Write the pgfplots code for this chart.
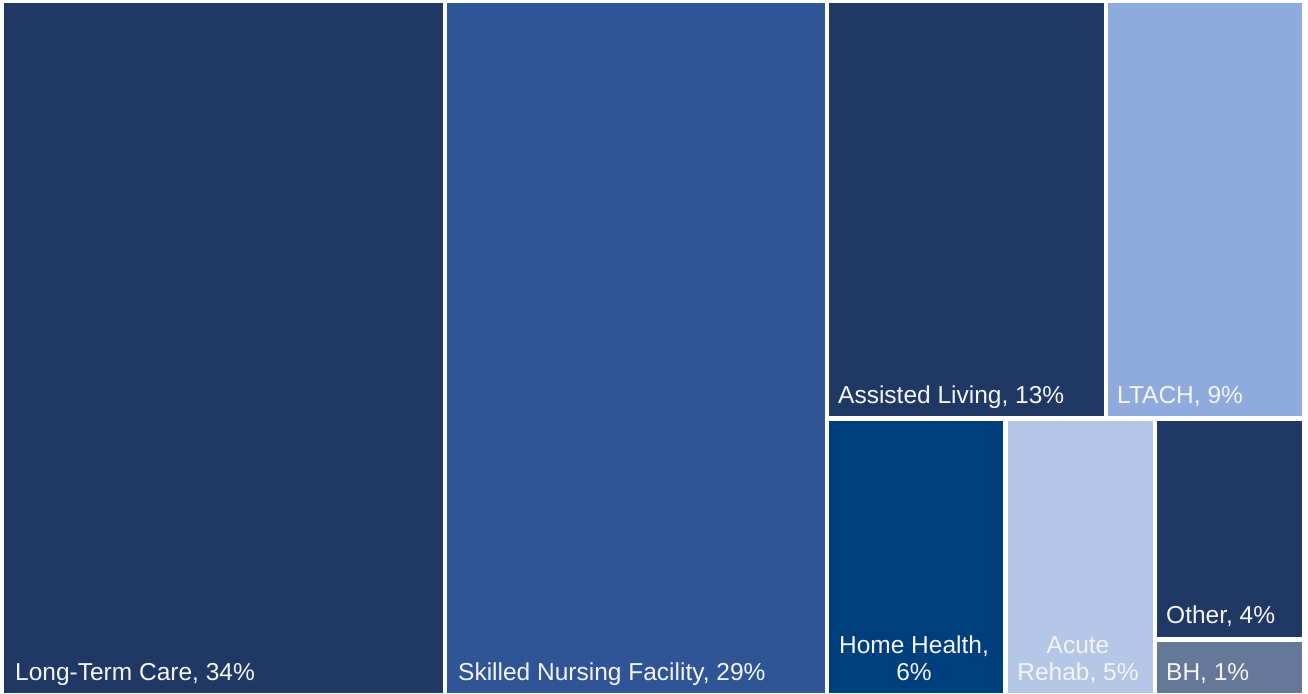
\documentclass[border=0pt]{standalone}
\usepackage{fontspec}
\setmainfont{Liberation Sans}
\usepackage{pgfplots}
\pgfplotsset{compat=1.18}
\definecolor{navy}{HTML}{203864}
\definecolor{snf}{HTML}{2F5597}
\definecolor{ltach}{HTML}{8FAADC}
\definecolor{hh}{HTML}{003F7E}
\definecolor{acute}{HTML}{B4C7E7}
\definecolor{bh}{HTML}{657897}
\definecolor{lbltxt}{HTML}{F4F4F4}
\tikzset{lbl/.style={text=lbltxt, font=\fontsize{24.5}{27}\selectfont, inner sep=0pt}}
\begin{document}
\begin{tikzpicture}
\begin{axis}[
  width=1308pt, height=693pt, scale only axis,
  xmin=0, xmax=1308, ymin=0, ymax=693, y dir=reverse,
  hide axis, clip=false,
]
% background
\addplot[fill=white, draw=none] coordinates {(0,0)(1308,0)(1308,693)(0,693)} -- cycle;
% Long-Term Care 34%
\addplot[fill=navy, draw=none] coordinates {(4,3)(443,3)(443,693)(4,693)} -- cycle;
% Skilled Nursing Facility 29%
\addplot[fill=snf, draw=none] coordinates {(447,3)(825,3)(825,693)(447,693)} -- cycle;
% Assisted Living 13%
\addplot[fill=navy, draw=none] coordinates {(829,3)(1104,3)(1104,416)(829,416)} -- cycle;
% LTACH 9%
\addplot[fill=ltach, draw=none] coordinates {(1108,3)(1302,3)(1302,416)(1108,416)} -- cycle;
% Home Health 6%
\addplot[fill=hh, draw=none] coordinates {(829,421)(1003,421)(1003,693)(829,693)} -- cycle;
% Acute Rehab 5%
\addplot[fill=acute, draw=none] coordinates {(1008,421)(1153,421)(1153,693)(1008,693)} -- cycle;
% Other 4%
\addplot[fill=navy, draw=none] coordinates {(1157,421)(1302,421)(1302,637)(1157,637)} -- cycle;
% BH 1%
\addplot[fill=bh, draw=none] coordinates {(1157,642)(1302,642)(1302,693)(1157,693)} -- cycle;

\node[lbl, anchor=base west] at (axis cs:15,680) {Long-Term Care, 34\%};
\node[lbl, anchor=base west] at (axis cs:458,680) {Skilled Nursing Facility, 29\%};
\node[lbl, anchor=base west] at (axis cs:838,403) {Assisted Living, 13\%};
\node[lbl, anchor=base west] at (axis cs:1117,403) {LTACH, 9\%};
\node[lbl, anchor=base west] at (axis cs:1166,623) {Other, 4\%};
\node[lbl, anchor=base west] at (axis cs:1166,680) {BH, 1\%};
\node[lbl, anchor=base] at (axis cs:914,653) {Home Health,};
\node[lbl, anchor=base] at (axis cs:914,680) {6\%};
\node[lbl, anchor=base] at (axis cs:1078,653) {Acute};
\node[lbl, anchor=base] at (axis cs:1078,680) {Rehab, 5\%};
\end{axis}
\end{tikzpicture}
\end{document}
